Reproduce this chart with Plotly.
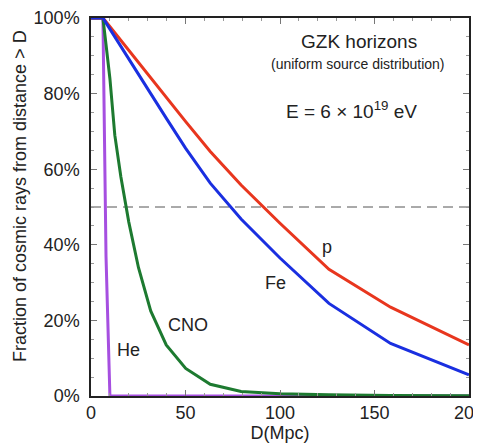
import plotly.graph_objects as go

# Distances (Mpc) at which the curves are sampled
D = [0, 6.31, 7.94, 10.0, 12.6, 15.8, 20.0, 25.1, 31.6, 39.8, 50.1, 63.1, 79.4, 100.0, 125.9, 158.5, 200.0]

# Fraction (%) of cosmic rays from distance > D
p_frac   = [100, 100, 99.0, 97.7, 96.1, 94.1, 91.4, 88.2, 84.2, 79.0, 72.6, 64.7, 55.8, 45.7, 33.5, 23.5, 13.5]
fe_frac  = [100, 100, 98.7, 97.1, 95.0, 92.4, 89.1, 85.1, 80.0, 73.5, 65.5, 56.3, 46.8, 36.5, 24.5, 13.9, 5.6]
cno_frac = [100, 100, 93.0, 84.0, 69.0, 58.0, 46.0, 34.0, 22.5, 13.5, 7.3, 3.1, 1.2, 0.6, 0.3, 0.1, 0.05]
he_frac  = [100, 100, 37.0, 0, 0, 0, 0, 0, 0, 0, 0, 0, 0, 0, 0, 0, 0]

y_ticks = [0, 20, 40, 60, 80, 100]
y_tick_labels = ["0%", "20%", "40%", "60%", "80%", "100%"]
x_ticks = [0, 50, 100, 150, 200]
x_tick_labels = ["0", "50", "100", "150", "200"]

FONT = "Liberation Sans, Arial, Helvetica, sans-serif"
TXT = "#222222"

fig = go.Figure()
series = [
    ("He", he_frac, "#a64fe0"),
    ("CNO", cno_frac, "#1d7a30"),
    ("p", p_frac, "#e8361e"),
    ("Fe", fe_frac, "#1a2fe0"),
]
for name, vals, col in series:
    fig.add_trace(go.Scatter(x=D, y=vals, mode="lines", name=name,
                             line=dict(color=col, width=3), showlegend=False))

fig.add_shape(type="line", xref="x", yref="y", x0=0, x1=200, y0=50, y1=50,
              line=dict(color="#555555", width=1, dash="10px,6px"), layer="below")

labels = [
    ("p", 124.7, 39.5),
    ("Fe", 97.4, 29.8),
    ("CNO", 51.5, 18.8),
    ("He", 19.7, 12.2),
]
for t, x, y in labels:
    fig.add_annotation(x=x, y=y, text=t, showarrow=False,
                       font=dict(family=FONT, size=18, color=TXT))

fig.add_annotation(x=141.8, y=93.7, text="GZK horizons", showarrow=False,
                   font=dict(family=FONT, size=19, color=TXT))
fig.add_annotation(x=141.3, y=87.8, text="(uniform source distribution)", showarrow=False,
                   font=dict(family=FONT, size=14, color=TXT))
fig.add_annotation(x=137.9, y=75.7, text="E = 6 × 10<sup>19</sup> eV", showarrow=False,
                   font=dict(family=FONT, size=19, color=TXT))

# y-axis title placed as rotated annotation (centred like the reference)
fig.add_annotation(xref="paper", yref="paper", x=-0.188, y=0.529,
                   text="Fraction of cosmic rays from distance > D", textangle=-90,
                   showarrow=False, xanchor="center", yanchor="middle",
                   font=dict(family=FONT, size=18, color=TXT))

fig.update_layout(
    width=473, height=436,
    margin=dict(l=83, r=12, t=10, b=48),
    paper_bgcolor="white", plot_bgcolor="white",
    font=dict(family=FONT, size=18, color=TXT),
    xaxis=dict(range=[0, 200], tickmode="array", tickvals=x_ticks, ticktext=x_tick_labels,
               ticks="inside", ticklen=6, ticklabeloverflow="allow",
               tickcolor="#777777", showgrid=False, zeroline=False, automargin=False,
               showline=True, linecolor="#222222", linewidth=1.5, mirror="allticks",
               minor=dict(dtick=10, ticks="inside", ticklen=3, tickcolor="#999999"),
               title=dict(text="D(Mpc)", font=dict(size=18), standoff=0),
               tickfont=dict(size=18)),
    yaxis=dict(range=[0, 100], tickmode="array", tickvals=y_ticks, ticktext=y_tick_labels,
               ticks="inside", ticklen=6, ticklabelstandoff=6,
               tickcolor="#777777", showgrid=False, zeroline=False, automargin=False,
               showline=True, linecolor="#222222", linewidth=1.5, mirror="allticks",
               minor=dict(dtick=5, ticks="inside", ticklen=3, tickcolor="#999999"),
               tickfont=dict(size=18)),
)

fig.write_html("out.html")
